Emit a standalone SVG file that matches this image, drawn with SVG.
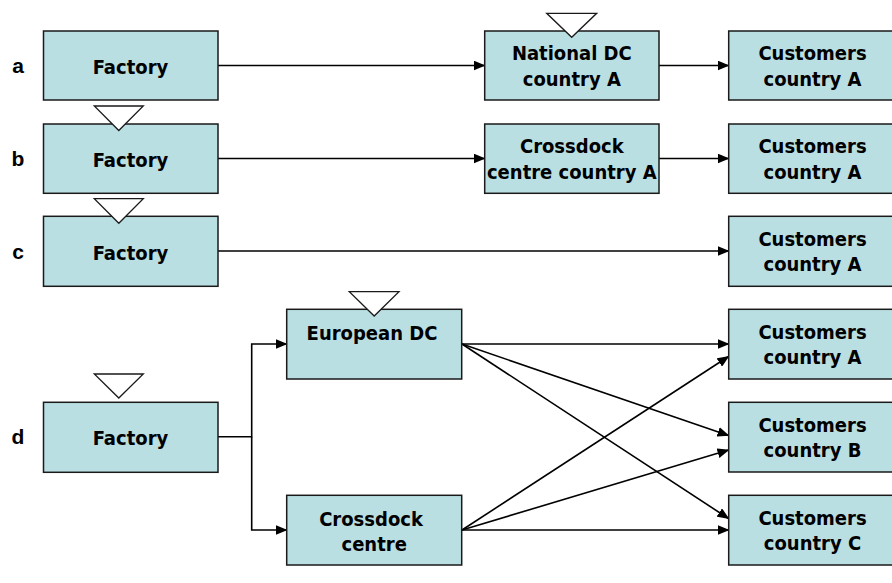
<svg xmlns="http://www.w3.org/2000/svg" width="892" height="583" viewBox="0 0 892 583">
<style>
.box{fill:#BADFE2;stroke:#1a1a1a;stroke-width:1.5}
.tri{fill:#fff;stroke:#1a1a1a;stroke-width:1.3}
.t{font-family:"DejaVu Sans Condensed","DejaVu Sans",Verdana,sans-serif;font-stretch:condensed;font-weight:bold;font-size:20px;fill:#000;text-anchor:middle}
.lbl{font-family:"Liberation Sans",Arial,sans-serif;font-weight:bold;font-size:21px;fill:#000;text-anchor:middle}
.c{fill:none;stroke:#000;stroke-width:1.6}
</style>
<defs>
<marker id="ah" markerWidth="12" markerHeight="10" refX="11" refY="5" orient="auto" markerUnits="userSpaceOnUse">
<path d="M0,0 L12,5 L0,10 Z" fill="#000"/>
</marker>
</defs>
<rect width="892" height="583" fill="#fff"/>
<g id="labels">
<text class="lbl" x="18" y="73">a</text>
<text class="lbl" x="18" y="166">b</text>
<text class="lbl" x="18" y="259">c</text>
<text class="lbl" x="18" y="444">d</text>
</g>
<g id="connectors">
<line class="c" x1="218" y1="65.5" x2="484.5" y2="65.5" marker-end="url(#ah)"/>
<line class="c" x1="659" y1="65.5" x2="728.5" y2="65.5" marker-end="url(#ah)"/>
<line class="c" x1="218" y1="158.5" x2="484.5" y2="158.5" marker-end="url(#ah)"/>
<line class="c" x1="659" y1="158.5" x2="728.5" y2="158.5" marker-end="url(#ah)"/>
<line class="c" x1="218" y1="251" x2="728.5" y2="251" marker-end="url(#ah)"/>
<polyline class="c" points="218,436.7 251.7,436.7 251.7,344 286.5,344" marker-end="url(#ah)"/>
<polyline class="c" points="251.7,436.7 251.7,530 286.5,530" marker-end="url(#ah)"/>
<line class="c" x1="462" y1="344" x2="728.5" y2="344" marker-end="url(#ah)"/>
<line class="c" x1="462" y1="344" x2="728.5" y2="435.5" marker-end="url(#ah)"/>
<line class="c" x1="462" y1="344" x2="728.5" y2="518.5" marker-end="url(#ah)"/>
<line class="c" x1="462" y1="530" x2="728.5" y2="356.5" marker-end="url(#ah)"/>
<line class="c" x1="462" y1="530" x2="728.5" y2="450" marker-end="url(#ah)"/>
<line class="c" x1="462" y1="530" x2="728.5" y2="530" marker-end="url(#ah)"/>
</g>
<g id="factory-a">
<rect class="box" x="43.5" y="31" width="174.5" height="69"/>
<text class="t" x="130.5" y="74">Factory</text>
</g>
<g id="national-dc-a">
<rect class="box" x="484.7" y="31" width="174.3" height="69"/>
<polygon class="tri" points="546.7,13.3 596.7,13.3 571.7,37.3"/>
<text class="t" x="571.8" y="60">National DC</text>
<text class="t" x="571.8" y="85.5">country A</text>
</g>
<g id="customers-a1">
<rect class="box" x="728.7" y="31" width="168" height="69"/>
<text class="t" x="812.5" y="60">Customers</text>
<text class="t" x="812.5" y="85.5">country A</text>
</g>
<g id="factory-b">
<rect class="box" x="43.5" y="124" width="174.5" height="69.3"/>
<polygon class="tri" points="94.3,106 143.3,106 118.8,130.5"/>
<text class="t" x="130.5" y="167">Factory</text>
</g>
<g id="crossdock-a">
<rect class="box" x="484.7" y="124" width="174.3" height="69.3"/>
<text class="t" x="571.8" y="153">Crossdock</text>
<text class="t" x="571.8" y="178.5">centre country A</text>
</g>
<g id="customers-a2">
<rect class="box" x="728.7" y="124" width="168" height="69.3"/>
<text class="t" x="812.5" y="153">Customers</text>
<text class="t" x="812.5" y="178.5">country A</text>
</g>
<g id="factory-c">
<rect class="box" x="43.5" y="216.3" width="174.5" height="70"/>
<polygon class="tri" points="94.3,198.7 143.3,198.7 118.8,223.3"/>
<text class="t" x="130.5" y="259.5">Factory</text>
</g>
<g id="customers-a3">
<rect class="box" x="728.7" y="216.3" width="168" height="70"/>
<text class="t" x="812.5" y="245.5">Customers</text>
<text class="t" x="812.5" y="271">country A</text>
</g>
<g id="european-dc">
<rect class="box" x="286.7" y="309.3" width="175" height="69.7"/>
<polygon class="tri" points="349.3,291.7 399,291.7 374.2,316"/>
<text class="t" x="372" y="339.5">European DC</text>
</g>
<g id="factory-d">
<rect class="box" x="43.5" y="402.3" width="174.5" height="70"/>
<polygon class="tri" points="94.3,374 143.3,374 118.8,398"/>
<text class="t" x="130.5" y="445">Factory</text>
</g>
<g id="crossdock-d">
<rect class="box" x="286.7" y="495.3" width="175" height="69.7"/>
<text class="t" x="371" y="525.5">Crossdock</text>
<text class="t" x="374.2" y="551">centre</text>
</g>
<g id="customers-a4">
<rect class="box" x="728.7" y="309.3" width="168" height="69.7"/>
<text class="t" x="812.5" y="338.5">Customers</text>
<text class="t" x="812.5" y="364">country A</text>
</g>
<g id="customers-b">
<rect class="box" x="728.7" y="402.3" width="168" height="69.7"/>
<text class="t" x="812.5" y="431.5">Customers</text>
<text class="t" x="812.5" y="457">country B</text>
</g>
<g id="customers-c">
<rect class="box" x="728.7" y="495.3" width="168" height="69.7"/>
<text class="t" x="812.5" y="524.5">Customers</text>
<text class="t" x="812.5" y="550">country C</text>
</g>
</svg>
